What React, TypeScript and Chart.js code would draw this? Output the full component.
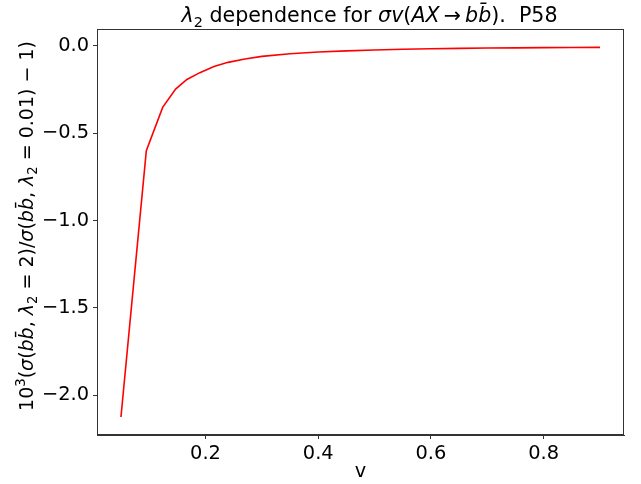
import React, { useEffect, useRef } from "react";
import { Chart, registerables } from "chart.js";

Chart.register(...registerables);

const vValues = [0.05, 0.095, 0.124, 0.147, 0.167, 0.19, 0.215, 0.24, 0.27, 0.3, 0.35, 0.4, 0.45, 0.5, 0.55, 0.6, 0.65, 0.7, 0.75, 0.8, 0.85, 0.9];
const yValues = [-2.125, -0.6, -0.352, -0.247, -0.192, -0.153, -0.118, -0.094, -0.075, -0.06, -0.045, -0.035, -0.028, -0.023, -0.019, -0.016, -0.014, -0.012, -0.011, -0.0095, -0.0087, -0.008];
const xTicks = [0.2, 0.4, 0.6, 0.8];
const yTicks = [-2.0, -1.5, -1.0, -0.5, 0.0];

const FONT = "'DejaVu Sans'";
const FS = 19.4;
const TFS = 20.6;
const LFS = 19;

type Seg = { t: string; it?: boolean; sub?: boolean; sup?: boolean };

const titleSegs: Seg[] = [
  { t: "λ", it: true },
  { t: "2", sub: true },
  { t: " dependence for " },
  { t: "σv", it: true },
  { t: "(" },
  { t: "AX", it: true },
  { t: "\u2009→\u2009" },
  { t: "bb\u0304", it: true },
  { t: ").  P58" },
];

const yLabelSegs: Seg[] = [
  { t: "10" },
  { t: "3", sup: true },
  { t: "(" },
  { t: "σ", it: true },
  { t: "(" },
  { t: "bb\u0304", it: true },
  { t: ", " },
  { t: "λ", it: true },
  { t: "2", sub: true },
  { t: " = 2)/" },
  { t: "σ", it: true },
  { t: "(" },
  { t: "bb\u0304", it: true },
  { t: ", " },
  { t: "λ", it: true },
  { t: "2", sub: true },
  { t: " = 0.01) − 1)" },
];

function segFont(s: Seg, fs: number) {
  const size = s.sub || s.sup ? fs * 0.7 : fs;
  return `${s.it ? "italic " : ""}${size}px ${FONT}`;
}

function drawRich(ctx: CanvasRenderingContext2D, segs: Seg[], cx: number, baseY: number, fs: number) {
  let total = 0;
  const widths: number[] = [];
  for (const s of segs) {
    ctx.font = segFont(s, fs);
    const w = ctx.measureText(s.t).width;
    widths.push(w);
    total += w;
  }
  let x = cx - total / 2;
  ctx.textAlign = "left";
  ctx.textBaseline = "alphabetic";
  segs.forEach((s, i) => {
    ctx.font = segFont(s, fs);
    const dy = s.sub ? fs * 0.22 : s.sup ? -fs * 0.4 : 0;
    ctx.fillText(s.t, x, baseY + dy);
    x += widths[i];
  });
}

const decorPlugin = {
  id: "decor",
  afterDraw(chart: any) {
    const { ctx, chartArea } = chart;
    const { left, right, top, bottom } = chartArea;
    ctx.save();
    ctx.strokeStyle = "#333";
    ctx.lineWidth = 1;
    ctx.strokeRect(left + 0.5, top + 0.5, right - left - 1, bottom - top - 1);
    ctx.fillStyle = "#000";
    drawRich(ctx, titleSegs, (left + right) / 2 + 9, 22, TFS);
    ctx.font = `${FS}px ${FONT}`;
    ctx.textAlign = "center";
    ctx.textBaseline = "alphabetic";
    ctx.fillText("v", (left + right) / 2, 477);
    ctx.save();
    ctx.translate(33, (top + bottom) / 2 - 6);
    ctx.rotate(-Math.PI / 2);
    drawRich(ctx, yLabelSegs, 0, 0, LFS);
    ctx.restore();
    ctx.restore();
  },
};

export default function App() {
  const ref = useRef<HTMLCanvasElement>(null);
  useEffect(() => {
    document.body.style.margin = "0";
    const data = vValues.map((v, i) => ({ x: v, y: yValues[i] }));
    const chart = new Chart(ref.current!, {
      type: "line",
      data: {
        datasets: [
          {
            data,
            borderColor: "#ff0000",
            borderWidth: 1.6,
            pointRadius: 0,
            fill: false,
            tension: 0,
          },
        ],
      },
      options: {
        responsive: false,
        animation: false,
        devicePixelRatio: 1,
        layout: { padding: { left: 0, top: 29, right: 17, bottom: 0 } },
        plugins: { legend: { display: false }, title: { display: false }, tooltip: { enabled: false } },
        scales: {
          x: {
            type: "linear",
            min: 0.0075,
            max: 0.9425,
            afterBuildTicks: (s: any) => {
              s.ticks = xTicks.map((v) => ({ value: v }));
            },
            afterFit: (s: any) => {
              s.height = 49;
            },
            ticks: {
              color: "#000",
              font: { family: FONT, size: FS },
              padding: 3,
              maxRotation: 0,
              callback: (v: any) => Number(v).toFixed(1),
            },
            grid: { drawOnChartArea: false, drawTicks: true, tickLength: 4, color: "#333" },
            border: { display: true, color: "#333" },
          },
          y: {
            type: "linear",
            min: -2.228,
            max: 0.097,
            afterBuildTicks: (s: any) => {
              s.ticks = yTicks.map((v) => ({ value: v }));
            },
            afterFit: (s: any) => {
              s.width = 97;
            },
            ticks: {
              color: "#000",
              font: { family: FONT, size: FS },
              padding: 4,
              callback: (v: any) => {
                const n = Number(v);
                return n === 0 ? "0.0" : "\u2212" + Math.abs(n).toFixed(1);
              },
            },
            grid: { drawOnChartArea: false, drawTicks: true, tickLength: 4, color: "#333" },
            border: { display: true, color: "#333" },
          },
        },
      },
      plugins: [decorPlugin],
    } as any);
    return () => chart.destroy();
  }, []);
  return <canvas ref={ref} width={641} height={484} style={{ display: "block" }} />;
}
